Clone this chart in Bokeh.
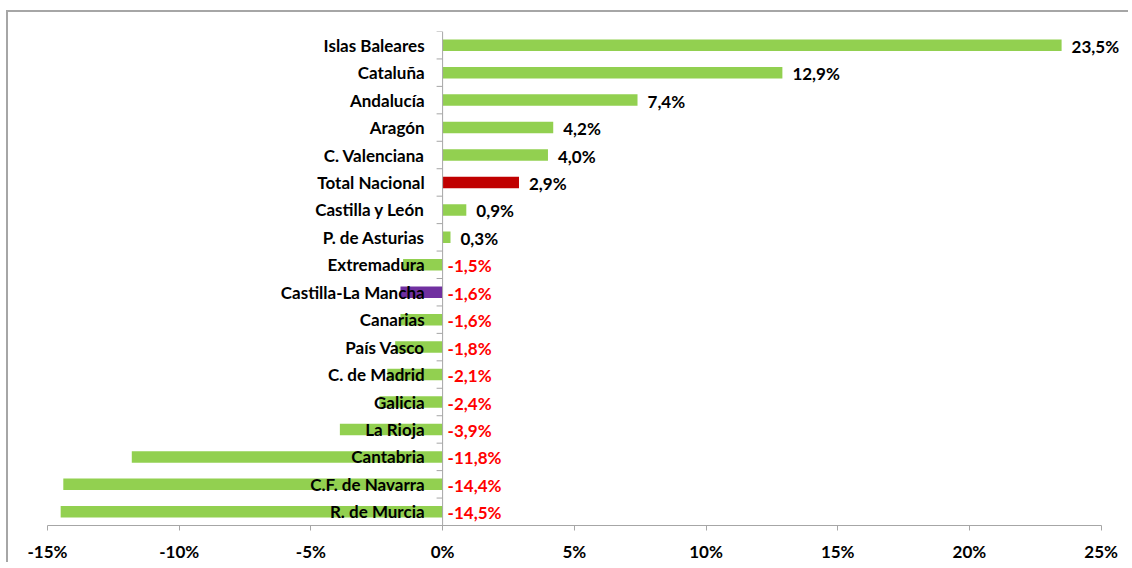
from bokeh.plotting import figure
from bokeh.models import FactorRange, Range1d, ColumnDataSource, Span, FixedTicker
from bokeh.core.properties import value
from bokeh.embed import file_html
from bokeh.resources import INLINE

# ---- data ----
regions = ["Islas Baleares", "Cataluña", "Andalucía", "Aragón", "C. Valenciana",
           "Total Nacional", "Castilla y León", "P. de Asturias", "Extremadura",
           "Castilla-La Mancha", "Canarias", "País Vasco", "C. de Madrid", "Galicia",
           "La Rioja", "Cantabria", "C.F. de Navarra", "R. de Murcia"]
changes = [23.5, 12.9, 7.4, 4.2, 4.0, 2.9, 0.9, 0.3, -1.5, -1.6, -1.6, -1.8, -2.1,
           -2.4, -3.9, -11.8, -14.4, -14.5]
x_ticks = [-15, -10, -5, 0, 5, 10, 15, 20, 25]
x_tick_labels = ["-15%", "-10%", "-5%", "0%", "5%", "10%", "15%", "20%", "25%"]

GREEN = "#92D050"
highlight = {"Total Nacional": "#C00000", "Castilla-La Mancha": "#7030A0"}
bar_colors = [highlight.get(r, GREEN) for r in regions]
val_text = [("%.1f%%" % v).replace(".", ",") for v in changes]
val_x = [v if v > 0 else 0 for v in changes]
val_off = [10 if v > 0 else 5 for v in changes]
val_col = ["#000000" if v > 0 else "#FF0000" for v in changes]

src = ColumnDataSource(dict(region=regions, change=changes, color=bar_colors,
                            vtext=val_text, vx=val_x, voff=val_off, vcol=val_col,
                            zero=[0] * len(regions)))

FONT = "Lato"
GRAY = "#A6A6A6"
FS = "17px"

p = figure(width=1122, height=552, output_backend="svg", toolbar_location=None,
           y_range=FactorRange(factors=list(reversed(regions)), range_padding=0),
           x_range=Range1d(-15, 26.04),
           min_border_left=39, min_border_right=2, min_border_top=19,
           min_border_bottom=35)
p.styles = {"margin-left": "6px", "margin-top": "10px",
            "border-left": "2px solid #A6A6A6", "border-top": "2px solid #A6A6A6"}
p.outline_line_color = None
p.grid.visible = False
p.yaxis.visible = False

p.hbar(y="region", left=0, right="change", height=0.42, color="color",
       line_color=None, source=src)

# vertical axis at zero with tick marks between categories
p.add_layout(Span(location=0, dimension="height", line_color=GRAY, line_width=1))
bounds = [(r, -0.5) for r in regions] + [(regions[0], 0.5)]
p.ray(x=[0] * len(bounds), y=bounds, length=6, length_units="screen", angle=3.14159265,
      line_color=GRAY, line_width=1)

# category labels
p.text(x="zero", y="region", text="region", source=src, x_offset=-18, y_offset=0,
       text_align="right", text_baseline="middle", text_font=value(FONT),
       text_font_style="bold", text_font_size=FS, text_color="#000000")
# value labels
p.text(x="vx", y="region", text="vtext", source=src, x_offset="voff", y_offset=1,
       text_align="left", text_baseline="middle", text_font=value(FONT),
       text_font_style="bold", text_font_size=FS, text_color="vcol")

ax = p.xaxis[0]
ax.bounds = (-15, 25)
ax.ticker = FixedTicker(ticks=x_ticks)
ax.major_label_overrides = {t: l for t, l in zip(x_ticks, x_tick_labels)}
ax.axis_line_color = GRAY
ax.major_tick_line_color = GRAY
ax.major_tick_out = 5
ax.major_tick_in = 0
ax.minor_tick_line_color = None
ax.major_label_standoff = 10
ax.major_label_text_font = FONT
ax.major_label_text_font_style = "bold"
ax.major_label_text_font_size = FS
ax.major_label_text_color = "#000000"

open("out.html", "w").write(file_html(p, INLINE))
